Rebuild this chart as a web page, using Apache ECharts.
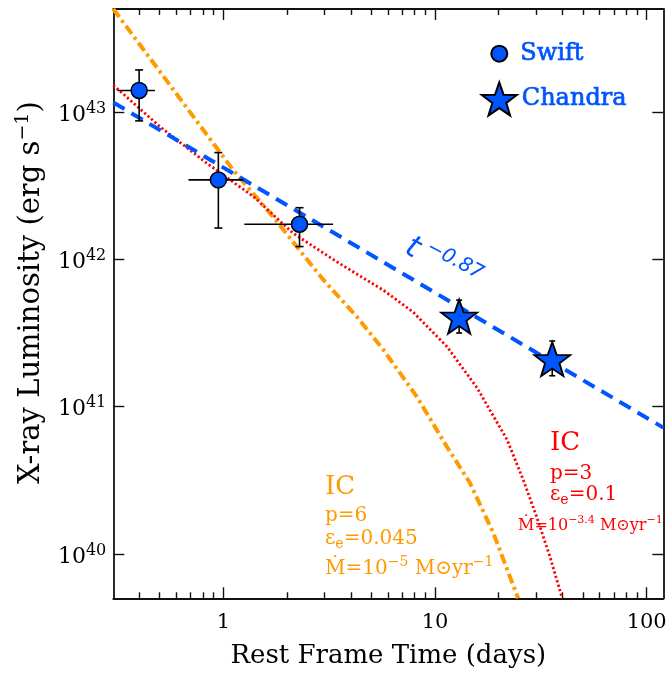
<!DOCTYPE html>
<html><head><meta charset="utf-8">
<script src="https://cdn.jsdelivr.net/npm/echarts@6/dist/echarts.min.js"></script>
<style>html,body{margin:0;padding:0;background:#fff}#c{width:670px;height:673px}</style>
</head><body><div id="c"></div>
<script>
// ---- Swift points (days, erg/s) with error bars ----
const swiftT   = [0.40, 0.947, 2.29];
const swiftL   = [1.40e43, 3.46e42, 1.73e42];
const swiftTlo = [0.316, 0.684, 1.256];
const swiftThi = [0.475, 1.243, 3.30];
const swiftLlo = [8.7e42, 1.63e42, 1.22e42];
const swiftLhi = [1.93e43, 5.3e42, 2.24e42];
// ---- Chandra points ----
const chandraT   = [13.0, 35.8];
const chandraL   = [4.08e41, 2.10e41];
const chandraLlo = [3.16e41, 1.62e41];
const chandraLhi = [5.28e41, 2.79e41];
// ---- t^-0.87 power law (endpoints) ----
const plT = [0.302, 119.8];
const plL = [1.16e43, 7.2e40];
// ---- IC model p=6 (orange) ----
const icOrangeT = [0.302, 1.11, 1.72, 2.22, 2.97, 4.27, 5.70, 8.20, 11.36, 14.63, 18.84, 24.7];
const icOrangeL = [5.0e43, 4.05e42, 1.94e42, 1.22e42, 7.24e41, 4.08e41, 2.43e41, 1.17e41, 5.36e40, 3.03e40, 1.39e40, 5.0e39];
// ---- IC model p=3 (red) ----
const icRedT = [0.302, 0.502, 0.835, 1.39, 2.14, 3.56, 5.68, 7.87, 11.4, 15.8, 21.9, 26.1, 30.2, 34.9, 39.9];
const icRedL = [1.52e43, 7.94e42, 4.49e42, 2.66e42, 1.50e42, 9.31e41, 6.19e41, 4.39e41, 2.55e41, 1.34e41, 5.96e40, 3.19e40, 1.79e40, 9.6e39, 5.0e39];
// ---- axis ticks ----
const xMajor = [1, 10, 100];
const xMinor = [0.4,0.5,0.6,0.7,0.8,0.9, 2,3,4,5,6,7,8,9, 20,30,40,50,60,70,80,90];
const yMajor = [1e40, 1e41, 1e42, 1e43];

const BLUE = '#0055ff', ORANGE = '#ff9a00', RED = '#ff0000';
const SERIF = '"DejaVu Serif", "Liberation Serif", serif';
const SANS = '"DejaVu Sans", sans-serif';
const STAR = 'path://M50 0 L61.756 33.82 L97.553 34.549 L69.021 56.18 L79.389 90.451 L50 70 L20.611 90.451 L30.979 56.18 L2.447 34.549 L38.244 33.82 Z';

const zip = (a, b) => a.map((v, i) => [v, b[i]]);

const chart = echarts.init(document.getElementById('c'), null, {renderer: 'canvas'});

const axisLineStyle = {color: '#111', width: 1.8};
function xAxisDef(pos, ticks, len, showLine, showLabel, extra) {
  return Object.assign({
    type: 'log', logBase: 10, min: 0.302, max: 119.8, position: pos,
    axisLine: {show: showLine, lineStyle: axisLineStyle},
    axisTick: {show: true, inside: true, length: len, customValues: ticks, lineStyle: {color: '#111', width: 1.4}},
    axisLabel: {show: showLabel, customValues: xMajor, margin: 14, color: '#000', fontSize: 21, fontFamily: SERIF},
    splitLine: {show: false}, minorTick: {show: false}
  }, extra || {});
}

function errRender(capHalf, horiz) {
  return function (params, api) {
    const t = api.value(0), L = api.value(1), tlo = api.value(2), thi = api.value(3), llo = api.value(4), lhi = api.value(5);
    const c = api.coord([t, L]);
    const top = api.coord([t, lhi]);
    const bot = api.coord([t, llo]);
    const st = {stroke: '#000', lineWidth: 1.6};
    const ch = [
      {type: 'line', shape: {x1: c[0], y1: top[1], x2: c[0], y2: bot[1]}, style: st},
      {type: 'line', shape: {x1: c[0] - capHalf, y1: top[1], x2: c[0] + capHalf, y2: top[1]}, style: st},
      {type: 'line', shape: {x1: c[0] - capHalf, y1: bot[1], x2: c[0] + capHalf, y2: bot[1]}, style: st}
    ];
    if (horiz) {
      const l = api.coord([tlo, L]), r = api.coord([thi, L]);
      ch.push({type: 'line', shape: {x1: l[0], y1: c[1], x2: r[0], y2: c[1]}, style: st});
    }
    return {type: 'group', children: ch};
  };
}

// rich styles for axis texts (use color) and graphic texts (use fill)
const supRich = (color, size, supSize, pad) => ({
  b: {fontSize: size, lineHeight: size + 1, fontFamily: SERIF, color: color, fill: color, padding: [pad, 0, 0, 0]},
  s: {fontSize: supSize, lineHeight: supSize, fontFamily: SERIF, color: color, fill: color, verticalAlign: 'top'}
});
const subRich = (color, size, subSize, pad) => ({
  b: {fontSize: size, lineHeight: size + 1, fontFamily: SERIF, fill: color, padding: [0, 0, pad, 0]},
  u: {fontSize: subSize, lineHeight: subSize, fontFamily: SERIF, fill: color, verticalAlign: 'bottom'}
});

function txt(x, y, text, fill, size, rich) {
  return {
    type: 'text', x: x, y: y, z: 10,
    style: {text: text, fill: fill, fontSize: size, fontFamily: SERIF, align: 'left', verticalAlign: 'middle', rich: rich}
  };
}

const legendText = {color: BLUE, fontSize: 24, fontFamily: SERIF, textBorderColor: BLUE, textBorderWidth: 0.7};

const option = {
  backgroundColor: '#fff',
  animation: false,
  grid: {left: 113.3, right: 6.7, top: 9, bottom: 74.7, outerBoundsMode: 'none', containLabel: false},
  legend: [
    {data: ['Swift'], left: 490.3, top: 41.3, padding: 0, itemWidth: 16, itemHeight: 16, selectedMode: false,
     textStyle: Object.assign({padding: [0, 0, 0, 8]}, legendText)},
    {data: ['Chandra'], left: 480.8, top: 81.3, padding: 0, itemWidth: 35, itemHeight: 34, selectedMode: false,
     textStyle: Object.assign({padding: [0, 0, 0, 0]}, legendText)}
  ],
  xAxis: [
    xAxisDef('bottom', xMajor, 11, true, true, {
      name: 'Rest Frame Time (days)', nameLocation: 'middle', nameGap: 45, nameMoveOverlap: false,
      nameTextStyle: {color: '#000', fontSize: 26, fontFamily: SERIF}
    }),
    xAxisDef('bottom', xMinor, 6, false, false),
    xAxisDef('top', xMajor, 11, true, false),
    xAxisDef('top', xMinor, 6, false, false)
  ],
  yAxis: [
    {
      type: 'log', logBase: 10, min: 5e39, max: 5e43, position: 'left',
      axisLine: {show: true, lineStyle: axisLineStyle},
      axisTick: {show: true, inside: true, length: 11, customValues: yMajor, lineStyle: {color: '#111', width: 1.4}},
      axisLabel: {
        customValues: yMajor, margin: 7,
        formatter: v => '{b|10}{s|' + Math.round(Math.log10(v)) + '}',
        rich: supRich('#000', 22, 16, 6)
      },
      splitLine: {show: false},
      name: '{b|X-ray Luminosity (erg s}{s|\u22121}{b|)}', nameLocation: 'middle', nameGap: 70, nameRotate: 90, nameMoveOverlap: false,
      nameTextStyle: {padding: [0, 0, 0, 22], rich: supRich('#000', 29, 19, 7)}
    },
    {
      type: 'log', logBase: 10, min: 5e39, max: 5e43, position: 'right',
      axisLine: {show: true, lineStyle: axisLineStyle},
      axisTick: {show: true, inside: true, length: 11, customValues: yMajor, lineStyle: {color: '#111', width: 1.4}},
      axisLabel: {show: false}, splitLine: {show: false}
    }
  ],
  series: [
    {name: 'IC p=6', type: 'line', xAxisIndex: 0, yAxisIndex: 0, data: zip(icOrangeT, icOrangeL), showSymbol: false, symbol: 'none', z: 2, clip: true,
     lineStyle: {color: ORANGE, width: 4, type: [10, 4, 3, 4]}},
    {name: 'IC p=3', type: 'line', xAxisIndex: 0, yAxisIndex: 0, data: zip(icRedT, icRedL), showSymbol: false, symbol: 'none', z: 2, clip: true,
     lineStyle: {color: RED, width: 2.8, type: [2.2, 2.4]}},
    {name: 'power law', type: 'line', xAxisIndex: 0, yAxisIndex: 0, data: zip(plT, plL), showSymbol: false, symbol: 'none', z: 2, clip: true,
     lineStyle: {color: BLUE, width: 4, type: [13, 8]}},
    {name: 'swiftErr', type: 'custom', xAxisIndex: 0, yAxisIndex: 0, z: 3, renderItem: errRender(4, true),
     encode: {x: 0, y: 1},
     data: swiftT.map((t, i) => [t, swiftL[i], swiftTlo[i], swiftThi[i], swiftLlo[i], swiftLhi[i]])},
    {name: 'chandraErr', type: 'custom', xAxisIndex: 0, yAxisIndex: 0, z: 3, renderItem: errRender(3, false),
     encode: {x: 0, y: 1},
     data: chandraT.map((t, i) => [t, chandraL[i], t, t, chandraLlo[i], chandraLhi[i]])},
    {name: 'Swift', type: 'scatter', xAxisIndex: 0, yAxisIndex: 0, z: 4, symbol: 'circle', symbolSize: 16,
     itemStyle: {color: BLUE, borderColor: '#000', borderWidth: 1.5, opacity: 1},
     data: zip(swiftT, swiftL)},
    {name: 'Chandra', type: 'scatter', xAxisIndex: 0, yAxisIndex: 0, z: 4, symbol: STAR, symbolSize: [36, 34],
     itemStyle: {color: BLUE, borderColor: '#000', borderWidth: 1.8, opacity: 1},
     data: zip(chandraT, chandraL)}
  ],
  graphic: [
    // t^-0.87 label
    {type: 'text', x: 444, y: 261, rotation: -0.49, z: 10,
     style: {text: '{t|t}{s| \u22120.87}', fill: BLUE, align: 'center', verticalAlign: 'middle',
       rich: {
         t: {fontSize: 31, lineHeight: 31, fontStyle: 'italic', fontFamily: SANS, fill: BLUE, padding: [7, 0, 0, 0]},
         s: {fontSize: 20, lineHeight: 20, fontStyle: 'italic', fontFamily: SANS, fill: BLUE, verticalAlign: 'top'}
       }}},
    // orange IC annotation
    txt(325, 487, 'IC', ORANGE, 26),
    txt(325, 516, 'p=6', ORANGE, 20),
    txt(325, 541, '{b|\u03b5}{u|e}{b|=0.045}', ORANGE, 20, subRich(ORANGE, 20, 14, 5)),
    txt(325, 566, '{b|\u1e40=10}{s|\u22125}{b| M\u2299yr}{s|\u22121}', ORANGE, 20, supRich(ORANGE, 20, 14, 6)),
    // red IC annotation
    txt(550, 443, 'IC', RED, 26),
    txt(550, 474, 'p=3', RED, 20),
    txt(550, 497, '{b|\u03b5}{u|e}{b|=0.1}', RED, 20, subRich(RED, 20, 14, 5)),
    txt(518, 523, '{b|\u1e40=10}{s|\u22123.4}{b| M\u2299yr}{s|\u22121}', RED, 16, supRich(RED, 16, 11, 5))
  ]
};
chart.setOption(option);
</script>
</body></html>
